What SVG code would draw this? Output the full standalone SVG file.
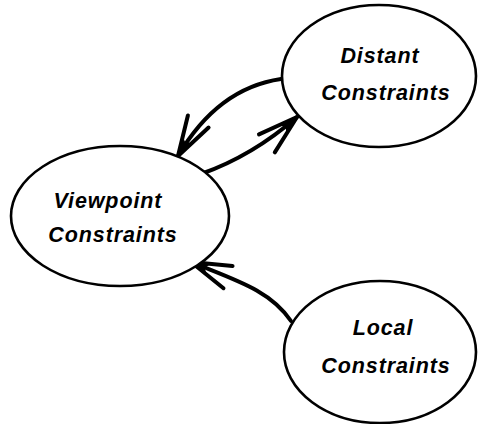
<svg xmlns="http://www.w3.org/2000/svg" width="483" height="424" viewBox="0 0 483 424">
<style>
.node ellipse{fill:#fff;stroke:#000;stroke-width:2.6}
.node text{font-family:"Liberation Sans",Arial,sans-serif;font-weight:bold;font-style:italic;font-size:21.5px;letter-spacing:0.9px;fill:#000;text-anchor:middle}
.conn path{fill:none;stroke:#000;stroke-width:4;stroke-linecap:round}
</style>
<defs>
<marker id="arr" markerUnits="userSpaceOnUse" orient="auto" markerWidth="60" markerHeight="40" refX="0" refY="0" viewBox="-50 -20 60 40" overflow="visible">
<path d="M-40,-12 L0,0 L-40,12" fill="none" stroke="#000" stroke-width="4" stroke-linecap="round" stroke-linejoin="round"/>
<path d="M2,0 L-20,-7 L-15,0 L-20,7 Z" fill="#000"/>
</marker>
</defs>
<rect width="483" height="424" fill="#fff"/>
<g class="conn" id="connectors">
<path d="M281,79 C240,85 205,110 178,156" marker-end="url(#arr)"/>
<path d="M201,174 C235,162 265,145 297,117" marker-end="url(#arr)"/>
<path d="M291,321 C270,290 235,280 191,262" marker-end="url(#arr)"/>
</g>
<g class="node" id="viewpoint">
<ellipse cx="120" cy="216" rx="109" ry="70"/>
<text x="108" y="208">Viewpoint</text>
<text x="113" y="242">Constraints</text>
</g>
<g class="node" id="distant">
<ellipse cx="379" cy="76" rx="97" ry="71"/>
<text x="380" y="63">Distant</text>
<text x="386" y="100">Constraints</text>
</g>
<g class="node" id="local">
<ellipse cx="380" cy="352" rx="96" ry="71"/>
<text x="383" y="335">Local</text>
<text x="386" y="373">Constraints</text>
</g>
</svg>
